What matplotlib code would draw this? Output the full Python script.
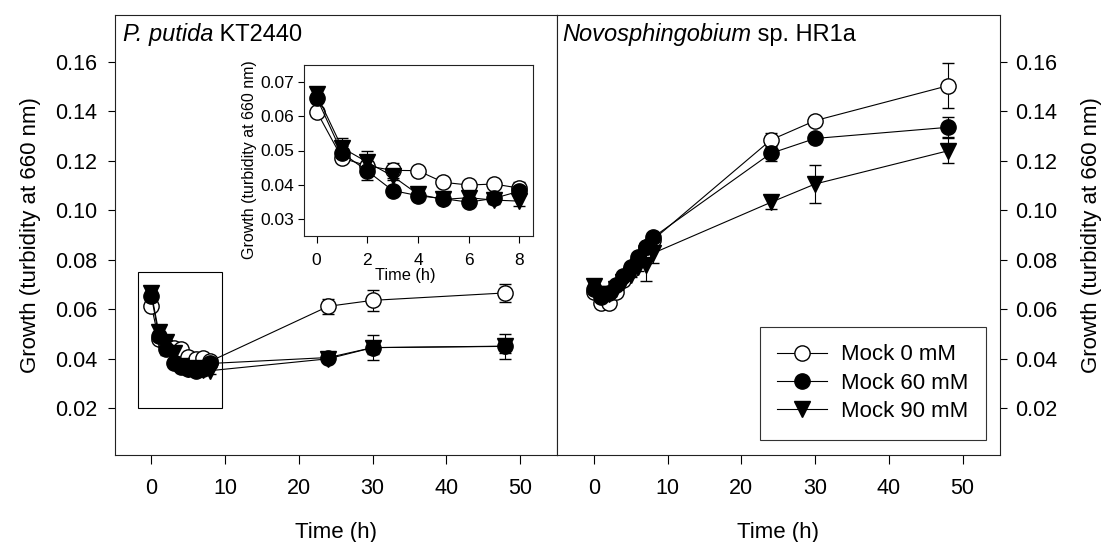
import matplotlib
matplotlib.use("Agg")
import matplotlib.pyplot as plt
from matplotlib.lines import Line2D
from matplotlib.patches import Rectangle

plt.rcParams['font.family'] = ['Liberation Sans', 'DejaVu Sans']

# ---- data ----
time = [0, 1, 2, 3, 4, 5, 6, 7, 8, 24, 30, 48]
n_inset = 9  # inset shows the first 8 hours (time points 0..8)
series_labels = ["Mock 0 mM", "Mock 60 mM", "Mock 90 mM"]

# P. putida KT2440
pp_0 = [0.0614, 0.0478, 0.0455, 0.0442, 0.0441, 0.0407, 0.0399, 0.0402, 0.0390, 0.0612, 0.0636, 0.0666]
pp_60 = [0.0654, 0.0493, 0.0440, 0.0383, 0.0368, 0.0359, 0.0349, 0.0360, 0.0381, 0.0405, 0.0445, 0.0451]
pp_90 = [0.0664, 0.0508, 0.0466, 0.0425, 0.0372, 0.0357, 0.0362, 0.0355, 0.0352, 0.0400, 0.0445, 0.0450]
pp_0_err = [0.0010, 0.0012, 0.0010, 0.0022, 0.0010, 0.0008, 0.0008, 0.0008, 0.0018, 0.0030, 0.0042, 0.0035]
pp_60_err = [0.0015, 0.0020, 0.0025, 0.0010, 0.0008, 0.0008, 0.0008, 0.0008, 0.0015, 0.0020, 0.0050, 0.0050]
pp_90_err = [0.0015, 0.0030, 0.0032, 0.0010, 0.0010, 0.0010, 0.0010, 0.0010, 0.0015, 0.0015, 0.0025, 0.0025]

# Novosphingobium sp. HR1a
nv_0 = [0.0670, 0.0625, 0.0625, 0.0670, 0.0720, 0.0760, 0.0800, 0.0850, 0.0880, 0.1284, 0.1362, 0.1503]
nv_60 = [0.0680, 0.0650, 0.0665, 0.0700, 0.0735, 0.0770, 0.0810, 0.0850, 0.0890, 0.1230, 0.1290, 0.1335]
nv_90 = [0.0695, 0.0660, 0.0660, 0.0680, 0.0710, 0.0740, 0.0770, 0.0780, 0.0826, 0.1032, 0.1106, 0.1240]
nv_0_err = [0.0010, 0.0010, 0.0010, 0.0010, 0.0010, 0.0010, 0.0010, 0.0015, 0.0010, 0.0030, 0.0010, 0.0090]
nv_60_err = [0.0010, 0.0010, 0.0010, 0.0010, 0.0010, 0.0010, 0.0010, 0.0010, 0.0010, 0.0030, 0.0010, 0.0040]
nv_90_err = [0.0010, 0.0010, 0.0010, 0.0010, 0.0010, 0.0010, 0.0015, 0.0066, 0.0040, 0.0025, 0.0078, 0.0050]

xticks_main = [0, 10, 20, 30, 40, 50]
yticks_main = [0.02, 0.04, 0.06, 0.08, 0.10, 0.12, 0.14, 0.16]
xticks_inset = [0, 2, 4, 6, 8]
yticks_inset = [0.03, 0.04, 0.05, 0.06, 0.07]

ylabel = "Growth (turbidity at 660 nm)"
xlabel = "Time (h)"

# ---- layout ----
W, H = 1106, 542
fig = plt.figure(figsize=(W / 100, H / 100), dpi=100)

def fx(px):
    return px / W

def fy(py):
    return (H - py) / H

ax_bottom = fy(455.3)
ax_h = 440.6 / H
ax1 = fig.add_axes([fx(114.5), ax_bottom, 442.5 / W, ax_h])
ax2 = fig.add_axes([fx(557.0), ax_bottom, 442.5 / W, ax_h])
ins = fig.add_axes([fx(304), fy(236), 229.3 / W, 171 / H])


def draw(ax, t, vals_list, errs_list, ms=11):
    # draw order: open circles, triangles, filled circles
    specs = [(0, 'o', 'white'), (2, 'v', 'black'), (1, 'o', 'black')]
    for idx, mk, fc in specs:
        ax.errorbar(t, vals_list[idx][:len(t)], yerr=errs_list[idx][:len(t)], fmt='-', marker=mk,
                    color='black', mfc=fc, mec='black', mew=1.0, ms=ms,
                    lw=0.8, elinewidth=0.8, capsize=4.5, capthick=0.8, zorder=3)


draw(ax1, time, [pp_0, pp_60, pp_90], [pp_0_err, pp_60_err, pp_90_err])
draw(ax2, time, [nv_0, nv_60, nv_90], [nv_0_err, nv_60_err, nv_90_err])
draw(ins, time[:n_inset], [pp_0, pp_60, pp_90], [pp_0_err, pp_60_err, pp_90_err])

for ax in (ax1, ax2):
    ax.set_xlim(-5, 55)
    ax.set_ylim(0.001, 0.179)
    ax.set_xticks(xticks_main)
    ax.set_yticks(yticks_main)
    ax.set_yticklabels([f"{v:.2f}" for v in yticks_main])
    ax.tick_params(axis='x', direction='out', length=6.5, width=0.8, pad=9.5, labelsize=15.5)
    ax.tick_params(axis='y', direction='out', length=5, width=0.8, pad=7.5, labelsize=15.5)
    for sp in ax.spines.values():
        sp.set_linewidth(0.8)
        sp.set_color('#222222')
    ax.set_xlabel(xlabel, fontsize=16)
    ax.xaxis.set_label_coords(0.5, -0.152)

ax1.set_ylabel(ylabel, fontsize=16)
ax1.yaxis.set_label_coords(-0.167, 0.5)

ax2.yaxis.tick_right()
ax2.yaxis.set_label_position('right')
ax2.tick_params(axis='y', pad=6.5)
ax2.set_ylabel(ylabel, fontsize=16)
ax2.yaxis.set_label_coords(1.184, 0.5)

# zoom box on P. putida panel
ax1.add_patch(Rectangle((-1.85, 0.02), 11.4, 0.055, fill=False, edgecolor='black', lw=0.8, zorder=1))

# inset
ins.set_xlim(-0.5, 8.55)
ins.set_ylim(0.025, 0.075)
ins.set_xticks(xticks_inset)
ins.set_yticks(yticks_inset)
ins.set_yticklabels([f"{v:.2f}" for v in yticks_inset])
ins.tick_params(axis='x', direction='out', length=5, width=0.8, pad=7.5, labelsize=12.5)
ins.tick_params(axis='y', direction='out', length=4, width=0.8, pad=3.0, labelsize=12.5)
for sp in ins.spines.values():
    sp.set_linewidth(0.8)
    sp.set_color('#222222')
ins.set_xlabel(xlabel, fontsize=11.8)
ins.xaxis.set_label_coords(0.44, -0.185)
ins.set_ylabel(ylabel, fontsize=11.5)
ins.yaxis.set_label_coords(-0.205, 0.444)

# panel titles (italic organism name followed by upright strain name)
t1 = ax1.text(0.019, 0.941, 'P. putida', style='italic', transform=ax1.transAxes,
              fontsize=17, va='baseline', ha='left')
ax1.annotate(' KT2440', xy=(1, 0), xycoords=t1, va='bottom', ha='left', fontsize=17)
t2 = ax2.text(0.011, 0.941, 'Novosphingobium', style='italic', transform=ax2.transAxes,
              fontsize=17, va='baseline', ha='left')
ax2.annotate(' sp. HR1a', xy=(1, 0), xycoords=t2, va='bottom', ha='left', fontsize=17)

# legend
handles = [
    Line2D([], [], color='black', lw=0.8, marker='o', mfc='white', mec='black', mew=1.0, ms=11),
    Line2D([], [], color='black', lw=0.8, marker='o', mfc='black', mec='black', mew=1.0, ms=11),
    Line2D([], [], color='black', lw=0.8, marker='v', mfc='black', mec='black', mew=1.0, ms=11),
]
leg = ax2.legend(handles, series_labels, loc='lower right', bbox_to_anchor=(0.969, 0.035),
                 borderaxespad=0, fontsize=16, frameon=True, fancybox=False, framealpha=1,
                 edgecolor='#333333', handlelength=2.25, handletextpad=0.6,
                 labelspacing=0.33, borderpad=0.8)
leg.get_frame().set_linewidth(0.8)

fig.savefig("out.png", dpi=100)
